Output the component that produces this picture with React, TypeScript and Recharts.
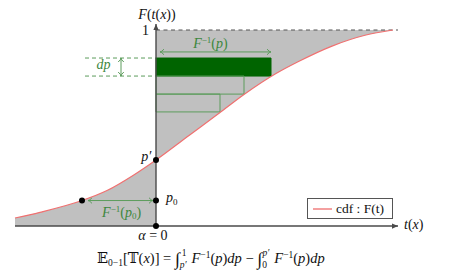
import React from 'react'
import {
  ComposedChart,
  XAxis,
  YAxis,
  Area,
  Line,
  ReferenceLine,
  ReferenceArea,
  ReferenceDot,
  Legend,
} from 'recharts'

// cdf: t (x axis units) -> F(t)
const tValues = [-3.525, -2.9, -1.85, -1.225, -0.575, 0, 0.825, 1.6, 2.2, 3.0, 3.55, 4.4, 5.225, 5.925]
const pValues = [0.041, 0.07, 0.13, 0.181, 0.258, 0.337, 0.462, 0.579, 0.671, 0.778, 0.838, 0.918, 0.973, 1.0]

// horizontal strips of width F^-1(p), from the top one (filled) down
const stripLow = [0.765, 0.673, 0.582]
const stripHigh = [0.857, 0.765, 0.673]
const stripRight = [2.875, 2.2, 1.6]

const pPrime = 0.337
const p0 = 0.13
const tAtP0 = -1.85

const data = tValues.map((t, i) => ({
  t,
  p: pValues[i],
  below: t <= 0 ? [0, pValues[i]] : null,
  above: t >= 0 ? [pValues[i], 1] : null,
}))

const FONT = "'Liberation Serif', 'DejaVu Serif', serif"
const AXIS = '#4a4a4a'
const GREEN = '#5c9c5c'
const GREEN_TXT = '#3d873d'

// line with optional arrow heads at either end
const arrowLine =
  (color: string, width: number, startHead: boolean, endHead: boolean, filled: boolean, dash?: string) =>
  (props: any) => {
    const { x1, y1, x2, y2 } = props
    const ang = Math.atan2(y2 - y1, x2 - x1)
    const head = (x: number, y: number, a: number, key: string) => {
      const len = filled ? 6 : 4
      const hw = filled ? 2.6 : 2.8
      const bx = x - len * Math.cos(a)
      const by = y - len * Math.sin(a)
      const px = -Math.sin(a) * hw
      const py = Math.cos(a) * hw
      if (filled) {
        return <path key={key} d={`M${x},${y}L${bx + px},${by + py}L${bx - px},${by - py}Z`} fill={color} />
      }
      return (
        <path
          key={key}
          d={`M${bx + px},${by + py}Q${x - 1.5 * Math.cos(a)},${y - 1.5 * Math.sin(a)} ${x},${y}Q${x - 1.5 * Math.cos(a)},${y - 1.5 * Math.sin(a)} ${bx - px},${by - py}`}
          fill="none"
          stroke={color}
          strokeWidth={width}
        />
      )
    }
    return (
      <g>
        <line x1={x1} y1={y1} x2={x2} y2={y2} stroke={color} strokeWidth={width} strokeDasharray={dash} />
        {startHead && head(x1, y1, ang + Math.PI, 's')}
        {endHead && head(x2, y2, ang, 'e')}
      </g>
    )
  }

const label =
  (content: React.ReactNode, anchor: 'start' | 'middle' | 'end', color = '#111', size = 13) =>
  (props: any) => (
    <text x={props.cx} y={props.cy} textAnchor={anchor} fill={color} fontSize={size} fontFamily={FONT}>
      {content}
    </text>
  )

const I = ({ children }: { children: React.ReactNode }) => <tspan fontStyle="italic">{children}</tspan>

const LegendBox = () => (
  <div
    style={{
      width: 84,
      height: 19,
      border: '1px solid #555',
      background: '#fff',
      display: 'flex',
      alignItems: 'center',
      fontFamily: FONT,
      fontSize: 13.5,
      color: '#111',
    }}
  >
    <svg width={24} height={10} style={{ marginLeft: 4 }}>
      <line x1={1} y1={5} x2={20} y2={5} stroke="#f08080" strokeWidth={1.5} />
    </svg>
    <span>cdf : F(t)</span>
  </div>
)

export default function App() {
  return (
    <div style={{ position: 'absolute', left: 0, top: 0, background: '#fff' }}>
      <ComposedChart width={458} height={277} data={data} margin={{ top: 0, right: 0, bottom: 0, left: 0 }}>
        <XAxis type="number" dataKey="t" domain={[-3.9, 7.55]} allowDataOverflow hide />
        <YAxis type="number" domain={[-0.26, 1.153]} allowDataOverflow hide />

        <Area
          dataKey="below"
          type="monotone"
          stroke="none"
          fill="#c0c0c0"
          fillOpacity={1}
          dot={false}
          activeDot={false}
          legendType="none"
          isAnimationActive={false}
        />
        <Area
          dataKey="above"
          type="monotone"
          stroke="none"
          fill="#c0c0c0"
          fillOpacity={1}
          dot={false}
          activeDot={false}
          legendType="none"
          isAnimationActive={false}
        />

        {stripLow.map((lo, i) => (
          <ReferenceArea
            key={i}
            x1={0}
            x2={stripRight[i]}
            y1={lo}
            y2={stripHigh[i]}
            fill={i === 0 ? '#006400' : 'none'}
            fillOpacity={1}
            stroke={i === 0 ? '#006400' : GREEN}
            strokeWidth={1}
          />
        ))}

        {/* dp guides */}
        <ReferenceLine
          segment={[{ x: -1.775, y: stripHigh[0] }, { x: 0, y: stripHigh[0] }]}
          shape={arrowLine(GREEN, 1, false, false, false, '4 3')}
        />
        <ReferenceLine
          segment={[{ x: -1.775, y: stripLow[0] }, { x: 0, y: stripLow[0] }]}
          shape={arrowLine(GREEN, 1, false, false, false, '4 3')}
        />
        <ReferenceLine
          segment={[{ x: -0.875, y: stripLow[0] }, { x: -0.875, y: stripHigh[0] }]}
          shape={arrowLine(GREEN, 1, true, true, false)}
        />
        <ReferenceLine
          segment={[{ x: 0.1, y: 0.888 }, { x: stripRight[0], y: 0.888 }]}
          shape={arrowLine(GREEN, 1, true, true, false)}
        />
        <ReferenceLine
          segment={[{ x: tAtP0 + 0.15, y: p0 }, { x: -0.075, y: p0 }]}
          shape={arrowLine(GREEN, 1, true, true, false)}
        />

        <ReferenceLine
          segment={[{ x: 0, y: 1 }, { x: 6.05, y: 1 }]}
          shape={arrowLine('#555', 1.2, false, false, false, '4 3.5')}
        />

        <Line
          dataKey="p"
          name="cdf : F(t)"
          type="monotone"
          stroke="#f07070"
          strokeWidth={1.2}
          dot={false}
          activeDot={false}
          isAnimationActive={false}
        />

        {/* axes */}
        <ReferenceLine
          segment={[{ x: -3.525, y: 0 }, { x: 6.05, y: 0 }]}
          shape={arrowLine(AXIS, 1.4, false, true, true)}
        />
        <ReferenceLine
          segment={[{ x: 0, y: 0 }, { x: 0, y: 1.031 }]}
          shape={arrowLine(AXIS, 1.4, false, true, true)}
        />

        <ReferenceDot x={0} y={pPrime} r={3} fill="#000" stroke="none" />
        <ReferenceDot x={0} y={p0} r={3} fill="#000" stroke="none" />
        <ReferenceDot x={tAtP0} y={p0} r={3} fill="#000" stroke="none" />
        <ReferenceDot x={0} y={0} r={3} fill="#000" stroke="none" />

        {/* text */}
        <ReferenceDot
          x={0.025}
          y={1.058}
          shape={label(<>
            <I>F</I>(<I>t</I>(<I>x</I>))
          </>, 'middle', '#111', 14)}
        />
        <ReferenceDot x={-0.26} y={0.974} shape={label('1', 'middle', '#111', 14)} />
        <ReferenceDot x={-0.12} y={0.33} shape={label(<I>p′</I>, 'end', '#111', 14)} />
        <ReferenceDot
          x={0.25}
          y={0.125}
          shape={label(<>
            <I>p</I>
            <tspan fontSize={9} dy={3}>0</tspan>
          </>, 'start', '#111', 14)}
        />
        <ReferenceDot
          x={-0.075}
          y={-0.071}
          shape={label(<>
            <I>α</I> = 0
          </>, 'middle', '#111', 14)}
        />
        <ReferenceDot x={6.2} y={-0.017} shape={label(<>
            <I>t</I>(<I>x</I>)
          </>, 'start', '#111', 14)} />
        <ReferenceDot
          x={-0.86}
          y={0.048}
          shape={label(<>
            <I>F</I>
            <tspan fontSize={9} dy={-5}>−1</tspan>
            <tspan dy={5}>(</tspan>
            <I>p</I>
            <tspan fontSize={9} dy={2}>0</tspan>
            <tspan dy={-2}>)</tspan>
          </>, 'middle', GREEN_TXT, 14)}
        />
        <ReferenceDot
          x={1.36}
          y={0.908}
          shape={label(<>
            <I>F</I>
            <tspan fontSize={9} dy={-5}>−1</tspan>
            <tspan dy={5}>(</tspan>
            <I>p</I>)
          </>, 'middle', GREEN_TXT, 14)}
        />
        <ReferenceDot x={-1.31} y={0.8} shape={label(<I>dp</I>, 'middle', GREEN_TXT, 14)} />

        <ReferenceDot
          x={-1.475}
          y={-0.189}
          shape={label(<>
            <tspan>𝔼</tspan>
            <tspan fontSize={9.5} dy={3}>0−1</tspan>
            <tspan dy={-3}>[𝕋(</tspan>
            <I>x</I>
            <tspan>)] = </tspan>
            <tspan fontSize={18} dy={2}>∫</tspan>
            <tspan fontSize={9.5} fontStyle="italic" dy={3}>p′</tspan>
            <tspan fontSize={9.5} dx={-5} dy={-12}>1</tspan>
            <tspan dx={5} dy={7} fontStyle="italic">F</tspan>
            <tspan fontSize={9.5} dy={-5}>−1</tspan>
            <tspan dy={5}>(</tspan>
            <I>p</I>
            <tspan>)</tspan>
            <I>dp</I>
            <tspan> − </tspan>
            <tspan fontSize={18} dy={2}>∫</tspan>
            <tspan fontSize={9.5} dy={3}>0</tspan>
            <tspan fontSize={9.5} fontStyle="italic" dx={-4.5} dy={-12}>p′</tspan>
            <tspan dx={5} dy={7} fontStyle="italic">F</tspan>
            <tspan fontSize={9.5} dy={-5}>−1</tspan>
            <tspan dy={5}>(</tspan>
            <I>p</I>
            <tspan>)</tspan>
            <I>dp</I>
          </>, 'start', '#111', 14.5)}
        />

        <Legend
          layout="horizontal"
          align="center"
          verticalAlign="middle"
          content={() => <LegendBox />}
          wrapperStyle={{ left: 307, top: 198, width: 86, height: 21 }}
        />
      </ComposedChart>
    </div>
  )
}
